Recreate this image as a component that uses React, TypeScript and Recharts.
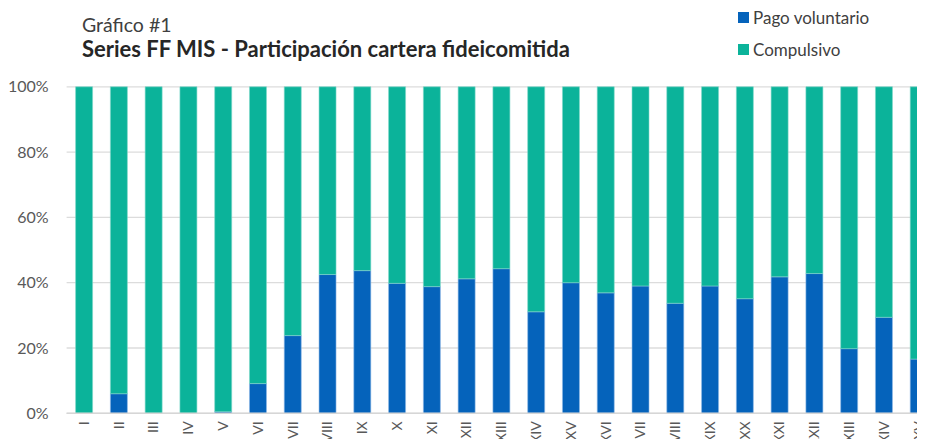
import React from 'react';
import { BarChart, Bar, XAxis, YAxis, CartesianGrid } from 'recharts';

const categories = ['I', 'II', 'III', 'IV', 'V', 'VI', 'VII', 'VIII', 'IX', 'X', 'XI', 'XII', 'XIII', 'XIV', 'XV', 'XVI', 'XVII', 'XVIII', 'XIX', 'XX', 'XXI', 'XXII', 'XXIII', 'XXIV', 'XXV'];
const pagoVoluntario = [0, 6.0, 0, 0, 0.5, 9.1, 23.8, 42.5, 43.7, 39.8, 38.8, 41.2, 44.3, 31.1, 40.0, 36.9, 39.0, 33.7, 39.0, 35.1, 41.8, 42.8, 19.8, 29.4, 16.6];
const compulsivo = [100, 94.0, 100, 100, 99.5, 90.9, 76.2, 57.5, 56.3, 60.2, 61.2, 58.8, 55.7, 68.9, 60.0, 63.1, 61.0, 66.3, 61.0, 64.9, 58.2, 57.2, 80.2, 70.6, 83.4];
const yTicks = [0, 20, 40, 60, 80, 100];
const seriesNames = ['Pago voluntario', 'Compulsivo'];
const titleSmall = 'Gráfico #1';
const titleMain = 'Series FF MIS - Participación cartera fideicomitida';

const BLUE = '#0563BB';
const TEAL = '#0BB39A';
const FONT = 'Lato, "Open Sans", sans-serif';

const data = categories.map((c, i) => ({ name: c, pago: pagoVoluntario[i], comp: compulsivo[i] }));

const XTick = (props: any) => {
  const { x, y, payload } = props;
  return (
    <g transform={`translate(${x},${y})`}>
      <text transform="rotate(-90)" x={0} y={0} dy="0.35em" textAnchor="end" fill="#595959" fontSize={14} fontFamily={FONT}>
        {payload.value}
      </text>
    </g>
  );
};

const legendColors = [BLUE, TEAL];
const legendTops = [8.4, 40.4];

export default function App() {
  return (
    <div style={{ position: 'relative', margin: -8, width: 925, height: 447, overflow: 'hidden' }}>
      <div style={{ position: 'absolute', left: 82, top: 12.5, fontFamily: FONT, fontSize: 19.5, color: '#404040', lineHeight: '24px', whiteSpace: 'nowrap' }}>
        {titleSmall}
      </div>
      <div style={{ position: 'absolute', left: 82, top: 36.4, fontFamily: FONT, fontSize: 22, fontWeight: 700, color: '#262626', lineHeight: '26px', whiteSpace: 'nowrap' }}>
        {titleMain}
      </div>
      {seriesNames.map((n, i) => (
        <React.Fragment key={n}>
          <div style={{ position: 'absolute', left: 738, top: legendTops[i] + 3.3, width: 11, height: 11, background: legendColors[i] }} />
          <div style={{ position: 'absolute', left: 753, top: legendTops[i], fontFamily: FONT, fontSize: 17, color: '#404040', lineHeight: '20px', whiteSpace: 'nowrap' }}>
            {n}
          </div>
        </React.Fragment>
      ))}
      <BarChart
        width={928}
        height={439}
        data={data}
        margin={{ top: 78.8, right: 0, bottom: 0, left: 0 }}
        barSize={17}
        style={{ position: 'absolute', left: 8, top: 8 }}
      >
        <CartesianGrid vertical={false} stroke="#dcdcdc" strokeWidth={1.3} />
        <XAxis
          dataKey="name"
          interval={0}
          height={33.7}
          tickLine={false}
          axisLine={{ stroke: '#d6d6d6', strokeWidth: 1.5 }}
          tick={<XTick />}
        />
        <YAxis
          width={58.6}
          domain={[0, 100]}
          ticks={yTicks}
          tickFormatter={(v: number) => `${v}%`}
          axisLine={false}
          tickLine={false}
          tickSize={0}
          tickMargin={18}
          tick={{ fill: '#595959', fontSize: 16, fontFamily: FONT }}
        />
        <Bar dataKey="pago" name={seriesNames[0]} stackId="a" fill={BLUE} stroke="#8fb8e6" strokeWidth={0.6} isAnimationActive={false} />
        <Bar dataKey="comp" name={seriesNames[1]} stackId="a" fill={TEAL} stroke="#7fd8c9" strokeWidth={0.6} isAnimationActive={false} />
      </BarChart>
    </div>
  );
}
